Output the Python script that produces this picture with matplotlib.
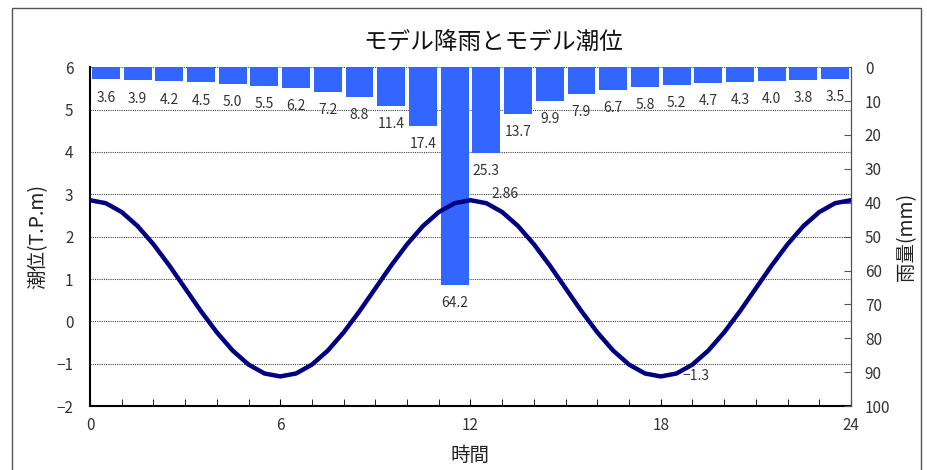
import matplotlib.pyplot as plt
from matplotlib.patches import Rectangle
from matplotlib.ticker import MultipleLocator

plt.rcParams['font.family'] = ['Noto Sans CJK JP', 'DejaVu Sans']

# hourly rainfall (mm), one bar per hour
rain_hours = [h + 0.5 for h in range(24)]
rain = [3.6, 3.9, 4.2, 4.5, 5.0, 5.5, 6.2, 7.2, 8.8, 11.4, 17.4, 64.2,
        25.3, 13.7, 9.9, 7.9, 6.7, 5.8, 5.2, 4.7, 4.3, 4.0, 3.8, 3.5]

# tide level (T.P.m) every half hour
tide_hours = [i * 0.5 for i in range(49)]
tide = [2.86, 2.79, 2.58, 2.25, 1.82, 1.32, 0.78, 0.24, -0.26, -0.69, -1.02, -1.23,
        -1.30, -1.23, -1.02, -0.69, -0.26, 0.24, 0.78, 1.32, 1.82, 2.25, 2.58, 2.79,
        2.86, 2.79, 2.58, 2.25, 1.82, 1.32, 0.78, 0.24, -0.26, -0.69, -1.02, -1.23,
        -1.30, -1.23, -1.02, -0.69, -0.26, 0.24, 0.78, 1.32, 1.82, 2.25, 2.58, 2.79,
        2.86]

fig = plt.figure(figsize=(9.28, 4.70), dpi=100)
ax = fig.add_axes([0.097, 0.136, 0.820, 0.721])
ax2 = ax.twinx()

# outer chart frame
fig.patches.append(Rectangle((0.013, -0.01), 0.979, 0.993, transform=fig.transFigure,
                             fill=False, edgecolor='#555555', linewidth=1.0))

txt = '#333333'

# rainfall bars hanging from the top
ax2.bar(rain_hours, rain, width=0.88, color='#3366ff', zorder=2)
for x, v in zip(rain_hours, rain):
    ax2.annotate(f'{v:.1f}', (x, v), xytext=(0, -8), textcoords='offset points',
                 ha='center', va='top', fontsize=10, color=txt)
ax2.set_ylim(100, 0)
ax2.set_yticks(range(0, 101, 10))
ax2.tick_params(axis='y', direction='in', length=5, labelsize=11, labelcolor=txt,
                color='#555555', pad=10)
ax2.set_ylabel('雨量(mm)', fontsize=14, color='#222222', labelpad=4)

# tide curve, drawn on top of the bars
ax2.plot(tide_hours, tide, color='#000080', linewidth=3.2, zorder=3,
         solid_capstyle='round', transform=ax.transData)
ax2.annotate('2.86', (12, 2.86), xytext=(13.1, 3.0), textcoords=ax.transData,
             xycoords=ax.transData, ha='center', va='center', fontsize=10, color=txt)
ax2.annotate('\u22121.3', (18, -1.30), xytext=(19.1, -1.3), textcoords=ax.transData,
             xycoords=ax.transData, ha='center', va='center', fontsize=10, color=txt)

ax.set_xlim(0, 24)
ax.set_ylim(-2, 6)
ax.set_xticks([0, 6, 12, 18, 24])
ax.xaxis.set_minor_locator(MultipleLocator(1))
ax.set_yticks(range(-2, 7))
ax.set_yticklabels([f'{v}'.replace('-', '\u2212') for v in range(-2, 7)])
ax.tick_params(axis='x', which='both', direction='in', length=5, labelsize=11,
               labelcolor=txt, pad=8)
ax.tick_params(axis='y', direction='in', length=0, labelsize=11, labelcolor=txt, pad=12)
ax.grid(axis='y', linestyle=(0, (1, 1)), color='#444444', linewidth=0.8)
ax.set_axisbelow(True)

ax.set_xlabel('時間', fontsize=14, color='#222222', labelpad=8)
ax.set_ylabel('潮位(T.P.m)', fontsize=14, color='#222222', labelpad=6)

for a in (ax, ax2):
    a.spines['top'].set_visible(False)
ax.spines['left'].set_linewidth(1.5)
ax.spines['bottom'].set_linewidth(1.5)
ax2.spines['left'].set_visible(False)
ax2.spines['bottom'].set_visible(False)
ax2.spines['right'].set_color('#555555')

fig.text(0.531, 0.909, 'モデル降雨とモデル潮位', ha='center', va='center',
         fontsize=17, color='#111111')

fig.savefig('out.png', dpi=100)
